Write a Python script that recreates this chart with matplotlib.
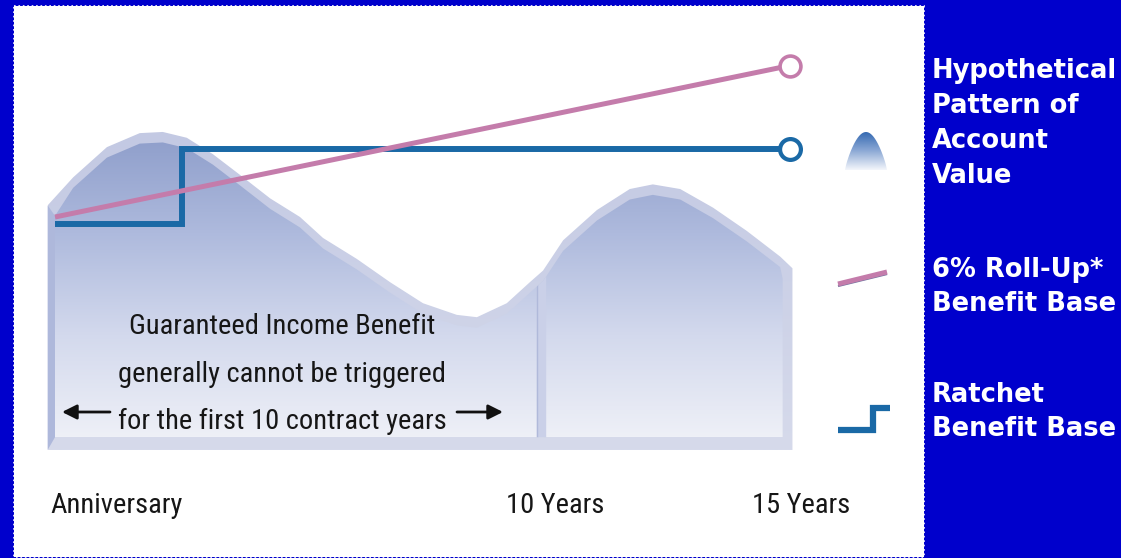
import numpy as np
import matplotlib
matplotlib.use('Agg')
import matplotlib.pyplot as plt
from matplotlib import font_manager
from matplotlib.font_manager import FontProperties
from matplotlib.patches import Polygon, Rectangle
from matplotlib.colors import LinearSegmentedColormap

# Data (years from anniversary, benefit value in arbitrary units)
years_av = [-0.15, 0.37, 1.06, 1.73, 2.2, 2.69, 3.22, 3.78, 4.39, 5.0, 5.47, 6.16, 6.84, 7.51,
            8.2, 8.61, 9.22, 9.69, 9.96, 10.37, 11.06, 11.73, 12.2, 12.76, 13.43, 14.12, 14.8, 15.05]
values_av = [105, 117, 130, 136, 136.5, 134, 127, 118, 108, 100, 91, 82, 72, 63,
             58, 57, 63, 72, 77, 90, 103, 112, 114, 112, 104, 94, 83, 78]
years_roll = [0, 15]
values_roll = [100, 165]
years_ratchet = [0, 2.6, 15]
values_ratchet = [97, 129, 129]
x_labels = ['Anniversary', '10 Years', '15 Years']
note_lines = ['Guaranteed Income Benefit', 'generally cannot be triggered',
              'for the first 10 contract years']
legend_groups = [['Hypothetical', 'Pattern of', 'Account', 'Value'],
                 ['6% Roll-Up*', 'Benefit Base'],
                 ['Ratchet', 'Benefit Base']]

PINK = '#c47cab'
BLUE = '#1a69a6'


# look for a narrow / condensed regular face
def pick_narrow():
    prefs = ['Liberation Sans Narrow', 'Roboto Condensed', 'Noto Sans Condensed',
             'Open Sans Condensed', 'DejaVu Sans Condensed']
    found = {}
    for f in font_manager.fontManager.ttflist:
        fn = f.fname.replace('-', '').replace('_', '').lower()
        if f.style != 'normal':
            continue
        if str(f.weight) not in ('400', 'normal', 'regular'):
            continue
        if 'bold' in fn or 'italic' in fn or 'light' in fn or 'medium' in fn or 'semi' in fn:
            continue
        for p in prefs:
            key = p.replace(' ', '').lower()
            if key in fn or f.name == p:
                found.setdefault(p, f.fname)
    for p in prefs:
        if p in found:
            return FontProperties(fname=found[p])
    return FontProperties(family='DejaVu Sans')


narrow = pick_narrow()

W, H = 1121, 558
fig = plt.figure(figsize=(W / 100, H / 100), dpi=100, facecolor='#0000cc')

# background layer in pixel coordinates (panel and legend)
ov = fig.add_axes([0, 0, 1, 1], zorder=0)
ov.set_axis_off()
ov.add_patch(Rectangle((14, 6), 910, 551, facecolor='white', edgecolor='white',
                       linestyle=':', linewidth=1.2, zorder=1))

# chart axes: year 0 at px 55, 49 px per year; value 0 at px 450, 2.33 px per unit
ax = fig.add_axes([0, 0, 1, 1], zorder=1)
ax.patch.set_visible(False)
ax.set_axis_off()
x0, kx = 55, 49.0
y0, ky = 450, 2.33
xlim = (-x0 / kx, (W - x0) / kx)
ylim = (-(H - y0) / ky, y0 / ky)

grad = np.linspace(0, 1, 256)[:, None]

# account value silhouette (bevel)
outer = Polygon(list(zip(years_av, values_av)) + [(years_av[-1], 0), (years_av[0], 0)],
                closed=True, facecolor='none', edgecolor='none')
ax.add_patch(outer)
cm_outer = LinearSegmentedColormap.from_list('o', ['#d6daeb', '#c3c9e3'])
im = ax.imshow(grad, cmap=cm_outer, origin='lower', aspect='auto',
               extent=[years_av[0], years_av[-1], 0, max(values_av)], zorder=2)
im.set_clip_path(outer)

# left side face of the slab
side = Polygon([(years_av[0], values_av[0]), (0, values_av[0] - 4.5), (0, 5.5), (years_av[0], 0)],
               closed=True, facecolor='#aeb8db', edgecolor='none', zorder=2.5)
ax.add_patch(side)

# front face
fx = np.clip(years_av, 0, 14.85)
fy = np.array(values_av) - 4.5
front = Polygon(list(zip(fx, fy)) + [(14.85, 5.5), (0, 5.5)], closed=True,
                facecolor='none', edgecolor='none')
ax.add_patch(front)
cm_front = LinearSegmentedColormap.from_list('f', ['#eef0f7', '#d3d9ed', '#aebadd', '#8d9dca'])
im2 = ax.imshow(grad, cmap=cm_front, origin='lower', aspect='auto',
                extent=[0, 14.85, 5.5, max(values_av)], zorder=3)
im2.set_clip_path(front)

# divider at 10 years
sp = ax.axvspan(9.84, 10.0, color='#cad0e8', zorder=4)
sp.set_clip_path(front)
ln = ax.axvline(9.84, color='#b0b9da', lw=1, zorder=4)
ln.set_clip_path(front)

# benefit base lines
ax.plot(years_ratchet, values_ratchet, drawstyle='steps-post', color=BLUE, lw=4.3,
        solid_joinstyle='miter', solid_capstyle='butt', zorder=5)
ax.plot(years_roll, values_roll, color=PINK, lw=3.6, solid_capstyle='butt', zorder=6)
ax.plot(years_roll[-1], values_roll[-1], 'o', ms=15, mfc='white', mec=PINK, mew=2.6, zorder=7)
ax.plot(years_ratchet[-1], values_ratchet[-1], 'o', ms=15, mfc='white', mec=BLUE, mew=3, zorder=7)

ax.set_xlim(xlim)
ax.set_ylim(ylim)

# legend icons
hx = np.linspace(845, 887, 40)
hy = 170 - 38 * np.sin(np.pi * (hx - 845) / 42) ** 0.8
hump = Polygon(list(zip(hx, hy)), closed=True, facecolor='none', edgecolor='none')
ov.add_patch(hump)
cm_hump = LinearSegmentedColormap.from_list('h', ['#356ab2', '#8eaad6', '#f4f6fb'])
im3 = ov.imshow(grad, cmap=cm_hump, origin='upper', aspect='auto',
                extent=[845, 887, 170, 132], zorder=3)
im3.set_clip_path(hump)

ov.plot([838, 887], [286, 274], color='#6f739f', lw=1.6, solid_capstyle='butt', zorder=3)
ov.plot([838, 887], [284, 272], color=PINK, lw=3.6, solid_capstyle='butt', zorder=4)
ov.plot([838, 873, 873, 890], [430, 430, 408, 408], color=BLUE, lw=4.5,
        solid_joinstyle='miter', solid_capstyle='butt', zorder=4)

# legend text
baselines = [[78, 113, 148, 183], [277, 311], [402, 436]]
for group, ys in zip(legend_groups, baselines):
    for txt, yb in zip(group, ys):
        ov.text(932, yb, txt, ha='left', va='baseline', color='white', fontsize=18.5,
                fontweight='bold', family='DejaVu Sans', zorder=5)
ov.set_xlim(0, W)
ov.set_ylim(H, 0)

# top layer for the note and axis labels
top = fig.add_axes([0, 0, 1, 1], zorder=2)
top.patch.set_visible(False)
top.set_axis_off()
top.set_xlim(0, W)
top.set_ylim(H, 0)

renderer = fig.canvas.get_renderer()
t0 = top.text(282, 334, note_lines[0], ha='center', va='baseline', color='#161616',
              fontproperties=narrow, fontsize=20)
w = t0.get_window_extent(renderer).width
fs = 20 * 305 / w
t0.set_fontsize(fs)
for txt, yb in zip(note_lines[1:], [382, 429]):
    top.text(282, yb, txt, ha='center', va='baseline', color='#161616',
             fontproperties=narrow, fontsize=fs)

for xy, xytext in [((62, 412), (110, 412)), ((503, 412), (457, 412))]:
    top.annotate('', xy=xy, xytext=xytext,
                 arrowprops=dict(arrowstyle='-|>', color='#111111', lw=2,
                                 mutation_scale=22, shrinkA=0, shrinkB=0))

top.text(50, 513, x_labels[0], ha='left', va='baseline', color='#161616',
         fontproperties=narrow, fontsize=fs)
top.text(555, 513, x_labels[1], ha='center', va='baseline', color='#161616',
         fontproperties=narrow, fontsize=fs)
top.text(801, 513, x_labels[2], ha='center', va='baseline', color='#161616',
         fontproperties=narrow, fontsize=fs)

fig.savefig('out.png', dpi=100, facecolor=fig.get_facecolor())
